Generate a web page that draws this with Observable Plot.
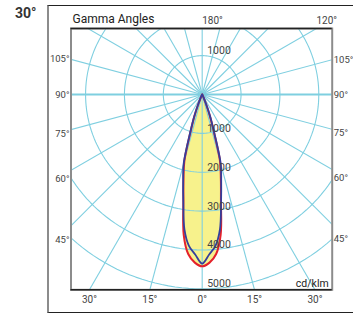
<!DOCTYPE html>
<html><head><meta charset="utf-8">
<script src="https://cdn.jsdelivr.net/npm/d3@7"></script>
<script src="https://cdn.jsdelivr.net/npm/@observablehq/plot@0.6"></script>
<style>
body{margin:0;background:#fff;}
#wrap{position:relative;width:353px;height:314px;overflow:hidden;font-family:Roboto,sans-serif;}
#outer{position:absolute;left:47.3px;top:4.6px;width:330px;height:306.6px;border-left:2px solid #8c8c8c;border-top:1.4px solid #222;border-bottom:1.4px solid #222;}
#title{position:absolute;left:15px;top:5px;font:bold 14px Roboto,sans-serif;color:#333;}
#chart{position:absolute;left:0;top:0;}
</style></head>
<body><div id="wrap"><div id="outer"></div><div id="title">30°</div><div id="chart"></div></div>
<script>
// Gamma angles (degrees from nadir) and luminous intensity (cd/klm)
const gammaAngles  = [0, 2.5, 5, 7.5, 10, 12.5, 15, 17.5, 20, 22.5, 25, 30, 35, 40, 50, 60, 70, 80, 90];
const intensityC0  = [4420, 4330, 4120, 3640, 2780, 2220, 1770, 980, 560, 230, 80, 20, 8, 3, 1, 0, 0, 0, 0];   // red
const intensityC90 = [4350, 4120, 3910, 3500, 2800, 2260, 1840, 1030, 600, 250, 95, 25, 10, 4, 1, 0, 0, 0, 0]; // blue
const circleValues = [1000, 2000, 3000, 4000, 5000];
const sideLabelAngles = [105, 90, 75, 60, 45];
const topLabelAngles = [180, 120];
const bottomLabelAngles = [-30, -15, 0, 15, 30];
const spokeAngles = d3.range(0, 360, 15);

const xDomain = [-3375, 3345];
const yDomain = [-1698, 5025];
const gridColor = "#7fcfe0";
const rad = d => d * Math.PI / 180;
const polar = (a, r) => ({x: r * Math.sin(rad(a)), y: r * Math.cos(rad(a))});

function curvePoints(vals) {
  const pts = [];
  for (let i = gammaAngles.length - 1; i >= 0; i--) pts.push(polar(-gammaAngles[i], vals[i]));
  for (let i = 1; i < gammaAngles.length; i++) pts.push(polar(gammaAngles[i], vals[i]));
  return pts;
}
const redPts = curvePoints(intensityC0);
const bluePts = curvePoints(intensityC90);

const circlePts = circleValues.flatMap(v => d3.range(0, 361, 2).map(a => ({v, ...polar(a, v)})));
const circleLabelData = [
  ...circleValues.filter(v => -v > yDomain[0]).map(v => ({v, y: -v})),
  ...circleValues.map(v => ({v, y: v}))
];

const sideY = (a, xe) => {
  const y = Math.abs(xe) * Math.cos(rad(a)) / Math.sin(rad(a));
  return y + Math.max(0, y) * 0.11;
};
const topX = a => { const t = yDomain[0] / Math.cos(rad(a)); return t * Math.sin(rad(a)); };
const bottomX = a => yDomain[1] * Math.tan(rad(a));

const tickFill = "#444";
const chart = Plot.plot({
  width: 353, height: 314,
  marginLeft: 70.5, marginRight: 21.3, marginTop: 28, marginBottom: 24.7,
  x: {domain: xDomain, axis: null},
  y: {domain: yDomain, reverse: true, axis: null},
  style: {fontFamily: "Roboto, sans-serif", background: "transparent"},
  marks: [
    Plot.line(redPts, {x: "x", y: "y", fill: "#f7f28c", stroke: "none", curve: "catmull-rom"}),
    Plot.line(bluePts, {x: "x", y: "y", fill: "#f7f28c", stroke: "none", curve: "catmull-rom"}),
    Plot.line(circlePts, {x: "x", y: "y", z: "v", stroke: gridColor, strokeWidth: 1.1, clip: true}),
    Plot.link(spokeAngles, {
      x1: () => 0, y1: () => 0,
      x2: a => 9000 * Math.sin(rad(a)), y2: a => 9000 * Math.cos(rad(a)),
      stroke: gridColor, strokeWidth: a => (a % 180 === 90 ? 2 : 1.1), clip: true
    }),
    Plot.line(redPts, {x: "x", y: "y", stroke: "#e4212b", strokeWidth: 2, curve: "catmull-rom"}),
    Plot.line(bluePts, {x: "x", y: "y", stroke: "#343f9c", strokeWidth: 1.8, curve: "catmull-rom"}),
    Plot.frame({stroke: "#8c8c8c", strokeWidth: 2}),
    Plot.ruleY(yDomain, {stroke: "#222", strokeWidth: 1.5}),
    Plot.text(circleLabelData, {x: () => 0, y: "y", text: d => String(d.v), dx: 5, dy: -1.5, lineAnchor: "bottom", textAnchor: "start", fontSize: 10.5, fill: tickFill}),
    Plot.text(sideLabelAngles, {x: () => xDomain[0], y: a => sideY(a, xDomain[0]), text: a => a + "°", textAnchor: "end", dx: -1.5, fontSize: 9.5, fill: tickFill}),
    Plot.text(sideLabelAngles, {x: () => xDomain[1], y: a => sideY(a, xDomain[1]), text: a => a + "°", textAnchor: "start", dx: 1.5, fontSize: 9.5, fill: tickFill}),
    Plot.text(topLabelAngles, {x: a => topX(a), y: () => yDomain[0], text: a => a + "°", textAnchor: "start", dy: -8, fontSize: 10, fill: tickFill}),
    Plot.text(bottomLabelAngles, {x: a => bottomX(a), y: () => yDomain[1], text: a => Math.abs(a) + "°", textAnchor: a => a < 0 ? "middle" : "start", dy: 10, fontSize: 10, fill: tickFill}),
    Plot.text(["Gamma Angles"], {x: () => xDomain[0], y: () => yDomain[0], text: d => d, textAnchor: "start", dx: 1.5, dy: -9.5, fontSize: 12, fill: "#222"}),
    Plot.text(["cd/klm"], {x: () => xDomain[1], y: () => yDomain[1], text: d => d, textAnchor: "end", lineAnchor: "bottom", dx: -3.5, dy: -2.5, fontSize: 10.5, fill: "#222"})
  ]
});
document.getElementById("chart").appendChild(chart);
</script>
</body></html>
